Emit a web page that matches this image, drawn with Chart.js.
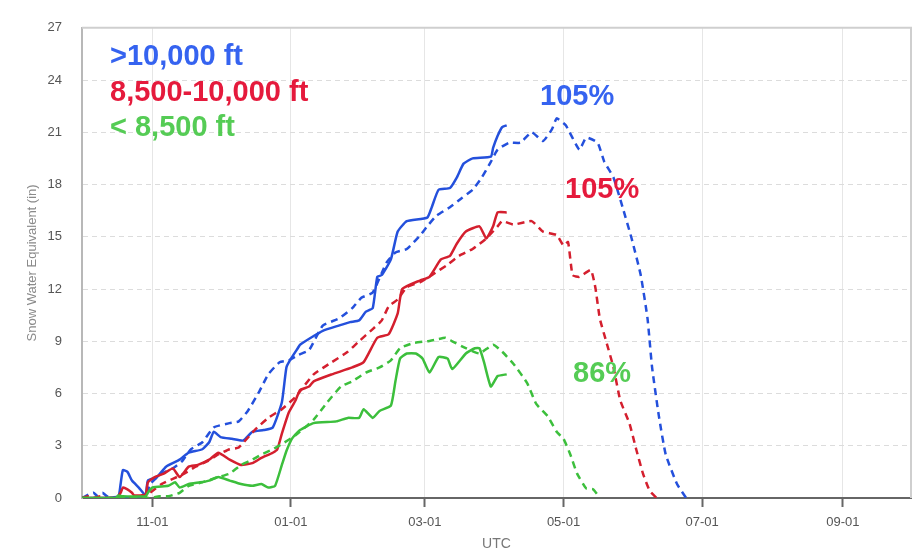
<!DOCTYPE html>
<html><head><meta charset="utf-8">
<script src="https://cdn.jsdelivr.net/npm/chart.js@4/dist/chart.umd.min.js"></script>
<style>html,body{margin:0;padding:0;background:#fff}#wrap{width:920px;height:553px}</style>
</head><body><div id="wrap"><canvas id="c" width="920" height="553"></canvas></div>
<script>
// x = day of water year (0 = Oct 1), y = snow water equivalent (in)
const tickDays = [31, 92, 151, 212, 273, 335];
const tickLabels = ['11-01', '01-01', '03-01', '05-01', '07-01', '09-01'];
const seriesNames = ['>10,000 ft', '8,500-10,000 ft', '< 8,500 ft'];
const pctLabels = ['105%', '105%', '86%'];

const blueNowDays = [0,10,16,17,18,20,22,25,28,29,33,37,43,47,53,56,58,61,66,71,75,80,84,88,90,92,95,96,102,106,113,118,122,125,128,130,132,136,139,143,152,154,157,162,165,168,172,180,181,183,185,187];
const blueNowSwe  = [0,0,0.1,0.8,1.6,1.5,1.0,0.6,0.15,1.0,1.2,1.8,2.2,2.6,2.8,3.2,3.8,3.5,3.4,3.3,3.8,3.9,4.05,5.5,7.5,8.0,8.6,8.8,9.3,9.6,9.9,10.1,10.2,10.7,10.9,12.7,12.8,13.7,15.3,15.9,16.1,16.7,17.7,17.8,18.4,19.2,19.5,19.6,20.1,20.8,21.3,21.4];

const blueMedDays = [0,3,5,7,9,11,14,28,30,35,40,44,48,53,58,65,69,73,78,82,87,91,95,100,106,113,119,123,128,134,138,143,149,152,156,162,167,172,176,180,183,188,193,198,203,207,209,213,219,222,227,230,234,238,242,246,249,251,254,257,262,266];
const blueMedSwe  = [0,0.2,0.3,0.1,0.3,0.1,0,0.1,0.8,1.4,1.7,2.1,2.8,3.2,4.05,4.3,4.4,5.0,6.1,7.1,7.8,7.9,8.2,8.5,9.9,10.3,10.9,11.5,11.8,13.5,14.1,14.3,15.1,15.6,16.2,16.7,17.2,17.7,18.4,19.3,20.0,20.4,20.4,21.0,20.5,21.2,21.8,21.4,20.0,20.7,20.4,19.3,18.4,16.7,14.9,12.8,10.3,7.5,4.7,2.5,0.8,0];

const redNowDays = [0,15,17,18,20,22,23,28,29,32,36,40,43,47,51,56,60,65,70,75,79,84,86,88,91,94,96,100,102,110,119,124,130,135,139,141,149,153,158,162,165,169,175,178,181,183,187];
const redNowSwe  = [0,0,0.3,0.6,0.5,0.3,0.15,0.2,0.9,1.2,1.4,1.7,1.2,1.8,1.9,2.2,2.6,2.2,1.9,2.0,2.3,2.6,2.8,3.7,4.9,5.6,6.2,6.4,6.7,7.1,7.5,7.8,9.2,9.4,10.6,12.0,12.5,12.7,13.7,13.9,14.6,15.3,15.6,14.9,15.6,16.4,16.4];

const redMedDays = [0,3,5,8,10,28,30,35,40,45,50,55,60,65,69,76,82,88,94,97,102,110,117,122,128,132,135,139,143,149,154,161,166,172,178,183,185,190,198,203,209,212,214,216,219,224,226,228,231,234,237,241,244,247,250,253];
const redMedSwe  = [0,0.1,0,0.1,0,0,0.3,0.8,1.1,1.4,1.8,2.1,2.5,2.8,2.9,3.9,4.6,5.1,5.8,6.3,7.1,7.8,8.4,9.0,9.7,10.2,11.0,11.4,12.1,12.4,12.8,13.4,13.9,14.3,14.9,15.6,15.9,15.7,15.9,15.3,15.1,14.5,14.7,12.8,12.7,13.1,12.1,10.3,8.9,7.5,5.6,4.3,2.8,1.4,0.4,0];

const greenNowDays = [0,15,16,18,28,29,31,38,41,43,47,52,56,60,65,70,75,79,82,85,88,90,92,93,96,102,112,117,122,124,128,131,136,138,140,143,147,150,153,157,161,163,169,173,175,177,180,183,187];
const greenNowSwe  = [0,0,0.15,0.1,0.1,0.3,0.6,0.7,0.9,0.6,0.8,0.9,1.0,1.2,1.0,0.8,0.7,0.8,0.6,0.7,1.9,2.7,3.3,3.5,3.9,4.3,4.4,4.6,4.6,5.1,4.6,5.0,5.3,6.7,8.0,8.3,8.3,8.0,7.2,8.1,8.0,7.4,8.3,8.6,8.6,7.8,6.4,7.0,7.1];

const greenMedDays = [0,30,34,38,43,47,53,60,65,70,75,79,84,88,94,102,108,114,119,125,131,136,140,146,152,156,160,163,169,175,181,185,190,196,200,205,209,212,215,218,222,225,228];
const greenMedSwe  = [0,0,0.1,0.1,0.3,0.7,0.9,1.2,1.4,1.9,2.2,2.5,2.8,3.1,3.6,4.5,5.5,6.4,6.7,7.2,7.5,7.9,8.6,8.9,9.0,9.1,9.2,9.0,8.6,8.3,8.8,8.4,7.7,6.6,5.4,4.7,3.8,3.4,2.5,1.4,0.55,0.5,0];

const FONT = '"Liberation Sans", Arial, sans-serif';
const BLUE = '#2450dc', RED = '#d41f2e', GREEN = '#3cbf3c';
const TXT_BLUE = '#3563f0', TXT_RED = '#e51a3c', TXT_GREEN = '#55cc55';

function pts(d, v) { return d.map((x, i) => ({x: x, y: v[i]})); }
function ds(label, d, v, color, dashed) {
  return {label, data: pts(d, v), borderColor: color, backgroundColor: color,
    borderWidth: 2.5, borderDash: dashed ? [7, 5] : [], pointRadius: 0, tension: 0.15, fill: false};
}

const overlay = {
  id: 'overlay',
  beforeDatasetsDraw(chart) {
    const {ctx, chartArea: a} = chart;
    ctx.save();
    ctx.strokeStyle = '#cfcfcf'; ctx.lineWidth = 2;
    ctx.beginPath(); ctx.moveTo(a.left, a.top); ctx.lineTo(a.right, a.top); ctx.lineTo(a.right, a.bottom); ctx.stroke();
    ctx.restore();
  },
  afterDraw(chart) {
    const ctx = chart.ctx;
    ctx.save();
    ctx.font = 'bold 29px ' + FONT;
    ctx.textAlign = 'left'; ctx.textBaseline = 'alphabetic';
    const cols = [TXT_BLUE, TXT_RED, TXT_GREEN];
    const legPos = [[110, 65], [110, 101], [110, 136]];
    seriesNames.forEach((t, i) => { ctx.fillStyle = cols[i]; ctx.fillText(t, legPos[i][0], legPos[i][1]); });
    const pctPos = [[540, 105], [565, 198], [573, 382]];
    pctLabels.forEach((t, i) => { ctx.fillStyle = cols[i]; ctx.fillText(t, pctPos[i][0], pctPos[i][1]); });
    ctx.restore();
  }
};

new Chart(document.getElementById('c'), {
  type: 'line',
  data: {
    datasets: [
      ds('green median', greenMedDays, greenMedSwe, GREEN, true),
      ds('green current', greenNowDays, greenNowSwe, GREEN, false),
      ds('red median', redMedDays, redMedSwe, RED, true),
      ds('red current', redNowDays, redNowSwe, RED, false),
      ds('blue median', blueMedDays, blueMedSwe, BLUE, true),
      ds('blue current', blueNowDays, blueNowSwe, BLUE, false)
    ]
  },
  options: {
    responsive: false, animation: false, devicePixelRatio: 1,
    layout: {padding: {top: 12, right: 9, left: 0, bottom: 0}},
    plugins: {legend: {display: false}, tooltip: {enabled: false}},
    scales: {
      x: {
        type: 'linear', min: 0, max: 365,
        afterBuildTicks(s) { s.ticks = tickDays.map(v => ({value: v})); },
        afterFit(s) { s.height = 55; },
        ticks: {
          autoSkip: false, maxRotation: 0, padding: 8, color: '#555',
          font: {family: FONT, size: 13},
          callback(v) { const i = tickDays.indexOf(v); return i >= 0 ? tickLabels[i] : ''; }
        },
        grid: {color: '#e6e6e6', lineWidth: 1, tickColor: '#666', tickLength: 9, tickWidth: 2},
        border: {color: '#666', width: 2},
        title: {display: true, text: 'UTC', color: '#777', font: {family: FONT, size: 14}, padding: {top: 0, bottom: 0}}
      },
      y: {
        min: 0, max: 27,
        afterFit(s) { s.width = 82; },
        ticks: {stepSize: 3, padding: 20, color: '#555', font: {family: FONT, size: 13}},
        grid: {color: '#dcdcdc', lineWidth: 1, drawTicks: false},
        border: {color: '#b8b8b8', width: 2, dash: [5, 4]},
        title: {display: true, text: 'Snow Water Equivalent (in)', color: '#8a8a8a', font: {family: FONT, size: 13}, padding: {top: 25, bottom: 0}}
      }
    }
  },
  plugins: [overlay]
});
</script></body></html>
